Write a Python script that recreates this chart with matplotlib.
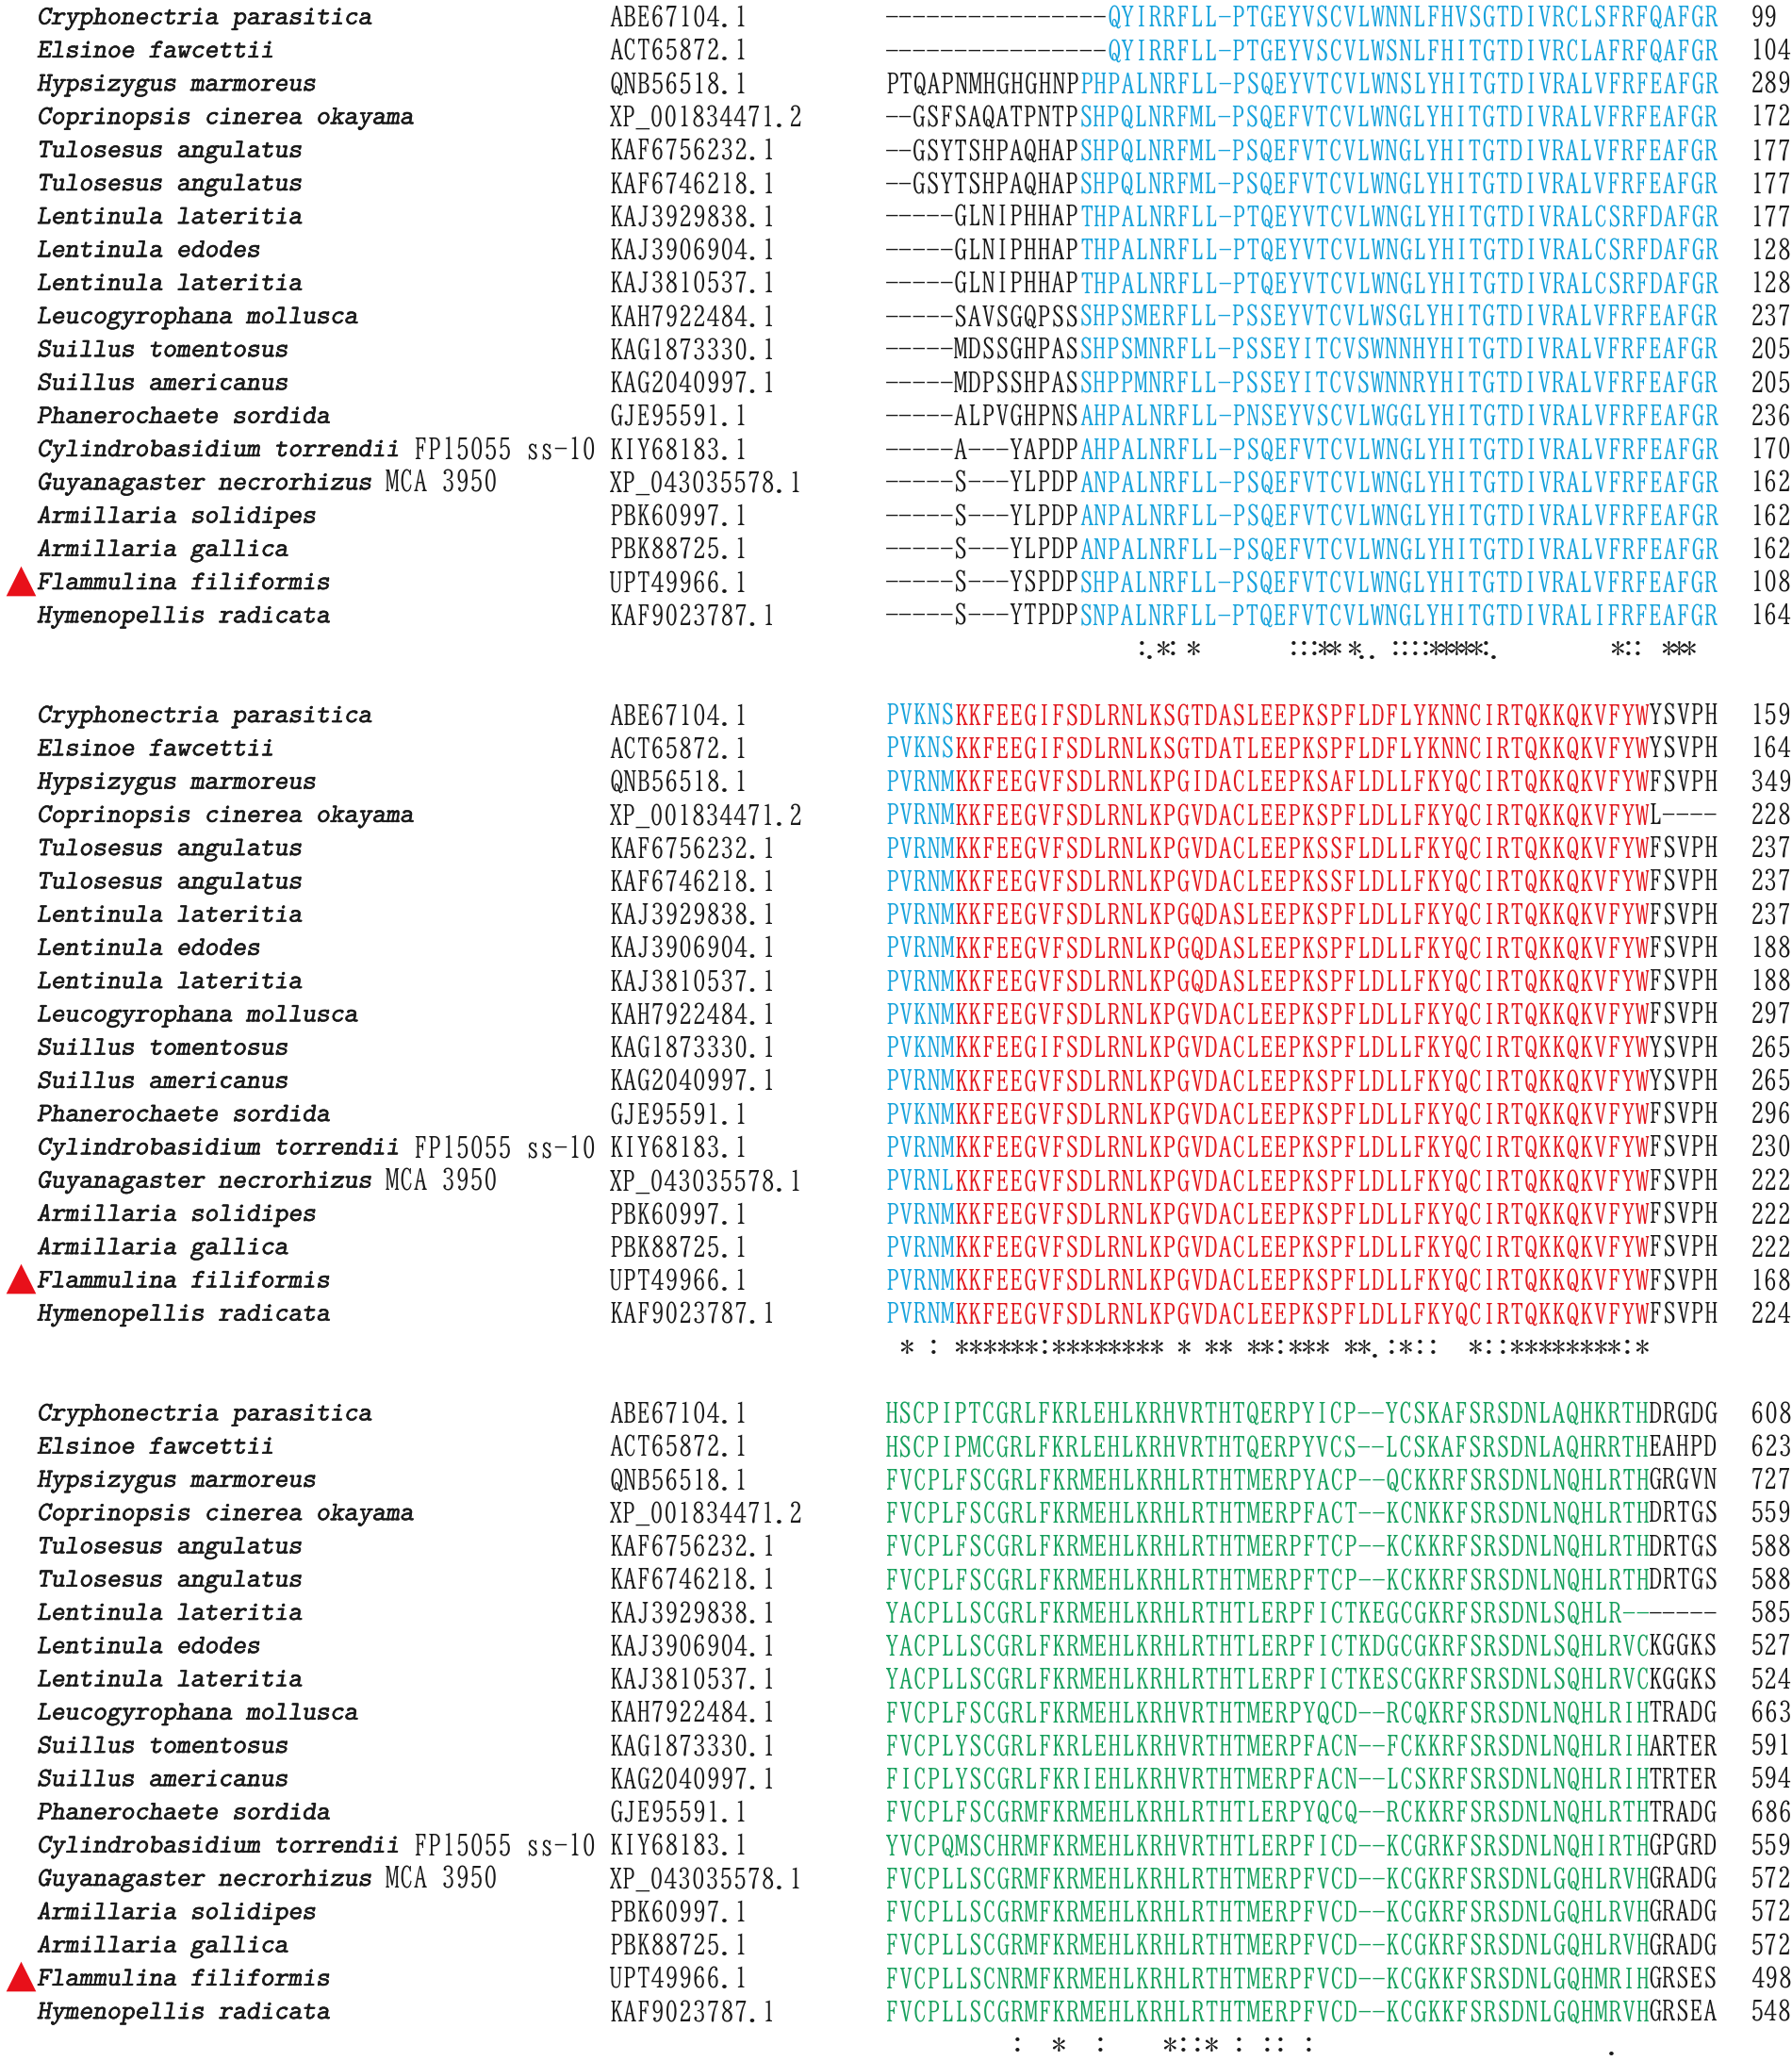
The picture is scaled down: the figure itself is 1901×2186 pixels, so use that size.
import matplotlib
matplotlib.use('Agg')
import matplotlib.pyplot as plt
import matplotlib.patheffects as pe
from matplotlib import font_manager
from matplotlib.font_manager import FontProperties

# ---- data -------------------------------------------------------------
species = [
    ("Cryphonectria parasitica", ""),
    ("Elsinoe fawcettii", ""),
    ("Hypsizygus marmoreus", ""),
    ("Coprinopsis cinerea okayama", ""),
    ("Tulosesus angulatus", ""),
    ("Tulosesus angulatus", ""),
    ("Lentinula lateritia", ""),
    ("Lentinula edodes", ""),
    ("Lentinula lateritia", ""),
    ("Leucogyrophana mollusca", ""),
    ("Suillus tomentosus", ""),
    ("Suillus americanus", ""),
    ("Phanerochaete sordida", ""),
    ("Cylindrobasidium torrendii", " FP15055 ss-10"),
    ("Guyanagaster necrorhizus", " MCA 3950"),
    ("Armillaria solidipes", ""),
    ("Armillaria gallica", ""),
    ("Flammulina filiformis", ""),
    ("Hymenopellis radicata", ""),
]
accessions = [
    "ABE67104.1", "ACT65872.1", "QNB56518.1", "XP_001834471.2", "KAF6756232.1",
    "KAF6746218.1", "KAJ3929838.1", "KAJ3906904.1", "KAJ3810537.1", "KAH7922484.1",
    "KAG1873330.1", "KAG2040997.1", "GJE95591.1", "KIY68183.1", "XP_043035578.1",
    "PBK60997.1", "PBK88725.1", "UPT49966.1", "KAF9023787.1",
]
marked = [17]  # Flammulina filiformis

b1_lead = [
    "----------------", "----------------", "PTQAPNMHGHGHNP", "--GSFSAQATPNTP",
    "--GSYTSHPAQHAP", "--GSYTSHPAQHAP", "-----GLNIPHHAP", "-----GLNIPHHAP",
    "-----GLNIPHHAP", "-----SAVSGQPSS", "-----MDSSGHPAS", "-----MDPSSHPAS",
    "-----ALPVGHPNS", "-----A---YAPDP", "-----S---YLPDP", "-----S---YLPDP",
    "-----S---YLPDP", "-----S---YSPDP", "-----S---YTPDP",
]
b1_blue = [
    "QYIRRFLL-PTGEYVSCVLWNNLFHVSGTDIVRCLSFRFQAFGR",
    "QYIRRFLL-PTGEYVSCVLWSNLFHITGTDIVRCLAFRFQAFGR",
    "PHPALNRFLL-PSQEYVTCVLWNSLYHITGTDIVRALVFRFEAFGR",
    "SHPQLNRFML-PSQEFVTCVLWNGLYHITGTDIVRALVFRFEAFGR",
    "SHPQLNRFML-PSQEFVTCVLWNGLYHITGTDIVRALVFRFEAFGR",
    "SHPQLNRFML-PSQEFVTCVLWNGLYHITGTDIVRALVFRFEAFGR",
    "THPALNRFLL-PTQEYVTCVLWNGLYHITGTDIVRALCSRFDAFGR",
    "THPALNRFLL-PTQEYVTCVLWNGLYHITGTDIVRALCSRFDAFGR",
    "THPALNRFLL-PTQEYVTCVLWNGLYHITGTDIVRALCSRFDAFGR",
    "SHPSMERFLL-PSSEYVTCVLWSGLYHITGTDIVRALVFRFEAFGR",
    "SHPSMNRFLL-PSSEYITCVSWNNHYHITGTDIVRALVFRFEAFGR",
    "SHPPMNRFLL-PSSEYITCVSWNNRYHITGTDIVRALVFRFEAFGR",
    "AHPALNRFLL-PNSEYVSCVLWGGLYHITGTDIVRALVFRFEAFGR",
    "AHPALNRFLL-PSQEFVTCVLWNGLYHITGTDIVRALVFRFEAFGR",
    "ANPALNRFLL-PSQEFVTCVLWNGLYHITGTDIVRALVFRFEAFGR",
    "ANPALNRFLL-PSQEFVTCVLWNGLYHITGTDIVRALVFRFEAFGR",
    "ANPALNRFLL-PSQEFVTCVLWNGLYHITGTDIVRALVFRFEAFGR",
    "SHPALNRFLL-PSQEFVTCVLWNGLYHITGTDIVRALVFRFEAFGR",
    "SNPALNRFLL-PTQEFVTCVLWNGLYHITGTDIVRALIFRFEAFGR",
]
b1_end = [99, 104, 289, 172, 177, 177, 177, 128, 128, 237, 205, 205, 236, 170,
          162, 162, 162, 108, 164]
b1_cons = ":.*: *         :::** *.. ::::*****:.           *::  ***"

b2_blue = ["PVKNS", "PVKNS", "PVRNM", "PVRNM", "PVRNM", "PVRNM", "PVRNM", "PVRNM",
           "PVRNM", "PVKNM", "PVKNM", "PVRNM", "PVKNM", "PVRNM", "PVRNL", "PVRNM",
           "PVRNM", "PVRNM", "PVRNM"]
_b2_common = "KKFEEGVFSDLRNLKPGVDACLEEPKSPFLDLLFKYQCIRTQKKQKVFYW"
b2_red = [
    "KKFEEGIFSDLRNLKSGTDASLEEPKSPFLDFLYKNNCIRTQKKQKVFYW",
    "KKFEEGIFSDLRNLKSGTDATLEEPKSPFLDFLYKNNCIRTQKKQKVFYW",
    "KKFEEGVFSDLRNLKPGIDACLEEPKSAFLDLLFKYQCIRTQKKQKVFYW",
    _b2_common,
    "KKFEEGVFSDLRNLKPGVDACLEEPKSSFLDLLFKYQCIRTQKKQKVFYW",
    "KKFEEGVFSDLRNLKPGVDACLEEPKSSFLDLLFKYQCIRTQKKQKVFYW",
    "KKFEEGVFSDLRNLKPGQDASLEEPKSPFLDLLFKYQCIRTQKKQKVFYW",
    "KKFEEGVFSDLRNLKPGQDASLEEPKSPFLDLLFKYQCIRTQKKQKVFYW",
    "KKFEEGVFSDLRNLKPGQDASLEEPKSPFLDLLFKYQCIRTQKKQKVFYW",
    _b2_common,
    "KKFEEGIFSDLRNLKPGVDACLEEPKSPFLDLLFKYQCIRTQKKQKVFYW",
    _b2_common, _b2_common, _b2_common, _b2_common, _b2_common,
    _b2_common, _b2_common, _b2_common,
]
b2_tail = ["YSVPH", "YSVPH", "FSVPH", "L----", "FSVPH", "FSVPH", "FSVPH", "FSVPH",
           "FSVPH", "FSVPH", "YSVPH", "YSVPH", "FSVPH", "FSVPH", "FSVPH", "FSVPH",
           "FSVPH", "FSVPH", "FSVPH"]
b2_end = [159, 164, 349, 228, 237, 237, 237, 188, 188, 297, 265, 265, 296, 230,
          222, 222, 222, 168, 224]
b2_cons = " * : ******:******** * ** **:*** **.:*::  *::********:*"

b3_green = [
    "HSCPIPTCGRLFKRLEHLKRHVRTHTQERPYICP--YCSKAFSRSDNLAQHKRTH",
    "HSCPIPMCGRLFKRLEHLKRHVRTHTQERPYVCS--LCSKAFSRSDNLAQHRRTH",
    "FVCPLFSCGRLFKRMEHLKRHLRTHTMERPYACP--QCKKRFSRSDNLNQHLRTH",
    "FVCPLFSCGRLFKRMEHLKRHLRTHTMERPFACT--KCNKKFSRSDNLNQHLRTH",
    "FVCPLFSCGRLFKRMEHLKRHLRTHTMERPFTCP--KCKKRFSRSDNLNQHLRTH",
    "FVCPLFSCGRLFKRMEHLKRHLRTHTMERPFTCP--KCKKRFSRSDNLNQHLRTH",
    "YACPLLSCGRLFKRMEHLKRHLRTHTLERPFICTKEGCGKRFSRSDNLSQHLR--",
    "YACPLLSCGRLFKRMEHLKRHLRTHTLERPFICTKDGCGKRFSRSDNLSQHLRVC",
    "YACPLLSCGRLFKRMEHLKRHLRTHTLERPFICTKESCGKRFSRSDNLSQHLRVC",
    "FVCPLFSCGRLFKRMEHLKRHVRTHTMERPYQCD--RCQKRFSRSDNLNQHLRIH",
    "FVCPLYSCGRLFKRLEHLKRHVRTHTMERPFACN--FCKKRFSRSDNLNQHLRIH",
    "FICPLYSCGRLFKRIEHLKRHVRTHTMERPFACN--LCSKRFSRSDNLNQHLRIH",
    "FVCPLFSCGRMFKRMEHLKRHLRTHTLERPYQCQ--RCKKRFSRSDNLNQHLRTH",
    "YVCPQMSCHRMFKRMEHLKRHVRTHTLERPFICD--KCGRKFSRSDNLNQHIRTH",
    "FVCPLLSCGRMFKRMEHLKRHLRTHTMERPFVCD--KCGKRFSRSDNLGQHLRVH",
    "FVCPLLSCGRMFKRMEHLKRHLRTHTMERPFVCD--KCGKRFSRSDNLGQHLRVH",
    "FVCPLLSCGRMFKRMEHLKRHLRTHTMERPFVCD--KCGKRFSRSDNLGQHLRVH",
    "FVCPLLSCNRMFKRMEHLKRHLRTHTMERPFVCD--KCGKKFSRSDNLGQHMRIH",
    "FVCPLLSCGRMFKRMEHLKRHLRTHTMERPFVCD--KCGKKFSRSDNLGQHMRVH",
]
b3_tail = ["DRGDG", "EAHPD", "GRGVN", "DRTGS", "DRTGS", "DRTGS", "-----", "KGGKS",
           "KGGKS", "TRADG", "ARTER", "TRTER", "TRADG", "GPGRD", "GRADG", "GRADG",
           "GRADG", "GRSES", "GRSEA"]
b3_end = [608, 623, 727, 559, 588, 588, 585, 527, 524, 663, 591, 594, 686, 559,
          572, 572, 572, 498, 548]
b3_cons = "         :  *  :    *::* : :: :                     ."

BLUE = '#16a2dc'
RED = '#e3191f'
GREEN = '#17a05d'
INK = '#1a1a1a'

# ---- layout -----------------------------------------------------------
W, H, DPI = 1901, 2186, 100
N_LINES = 62
LINE = H / N_LINES
PITCH = 14.72        # sequence / accession column pitch (px)
NAME_PITCH = 14.8    # species name pitch (px)

SEQ_FONT = 'BIZ UDMincho'
NAME_FONT = 'Latin Modern Mono Slanted'


def metrics(family):
    """advance and cap height of a monospaced font, in em"""
    ft = font_manager.get_font(font_manager.findfont(FontProperties(family=family)))
    ft.set_size(100, 72)
    g = ft.load_char(ord('H'))
    return g.linearHoriAdvance / 65536 / 100, g.height / 64 / 100


seq_adv, seq_cap = metrics(SEQ_FONT)
name_adv, name_cap = metrics(NAME_FONT)
FS = PITCH / seq_adv * 72 / DPI
FS_STRAIN = NAME_PITCH / seq_adv * 72 / DPI
FS_NAME = NAME_PITCH / name_adv * 72 / DPI
CAP = seq_cap * FS * DPI / 72
CAP_NAME = name_cap * FS_NAME * DPI / 72
# the slanted typewriter face is a bit thin next to the reference
HEAVY = [pe.withStroke(linewidth=0.4, foreground=INK)]

X_NAME, X_ACC, X_SEQ, X_NUM = 39, 646, 939, 1857

fig = plt.figure(figsize=(W / DPI, H / DPI), dpi=DPI)
ax = fig.add_axes([0, 0, 1, 1])
ax.set_xlim(0, W)
ax.set_ylim(H, 0)
ax.axis('off')


def center(line):
    return (line + 0.5) * LINE - 0.6


def put(x, line, s, color=INK, family=SEQ_FONT, size=FS, cap=None, effects=None):
    cap = CAP if cap is None else cap
    ax.text(x, center(line) + cap / 2, s, family=family, fontsize=size,
            color=color, ha='left', va='baseline', path_effects=effects)


def draw_block(first, segments, ends, cons, cons_x0, cons_pitch):
    for i in range(len(species)):
        line = first + i
        genus, strain = species[i]
        put(X_NAME, line, genus, family=NAME_FONT, size=FS_NAME, cap=CAP_NAME,
            effects=HEAVY)
        if strain:
            put(X_NAME + len(genus) * NAME_PITCH, line, strain, size=FS_STRAIN,
                cap=CAP * FS_STRAIN / FS)
        put(X_ACC, line, accessions[i])
        col = 0
        for seqs, color in segments:
            put(X_SEQ + col * PITCH, line, seqs[i], color)
            col += len(seqs[i])
        put(X_NUM, line, str(ends[i]))
        if i in marked:
            ax.scatter([X_NAME - 17], [center(line) + CAP / 2 - 12], marker='^',
                       s=520, color='#e8101a', linewidths=0, zorder=3)
    cl = first + len(species)
    for k, ch in enumerate(cons):
        if ch != ' ':
            ax.text(cons_x0 + k * cons_pitch, center(cl) + CAP / 2, ch,
                    family=SEQ_FONT, fontsize=FS, color=INK, ha='center',
                    va='baseline')


draw_block(0, [(b1_lead, INK), (b1_blue, BLUE)], b1_end, b1_cons, 1211.6, 10.73)
draw_block(21, [(b2_blue, BLUE), (b2_red, RED), (b2_tail, INK)], b2_end, b2_cons,
           X_SEQ + PITCH / 2, PITCH)
draw_block(42, [(b3_green, GREEN), (b3_tail, INK)], b3_end, b3_cons,
           X_SEQ + PITCH / 2, PITCH)

fig.savefig('out.png', dpi=DPI)
